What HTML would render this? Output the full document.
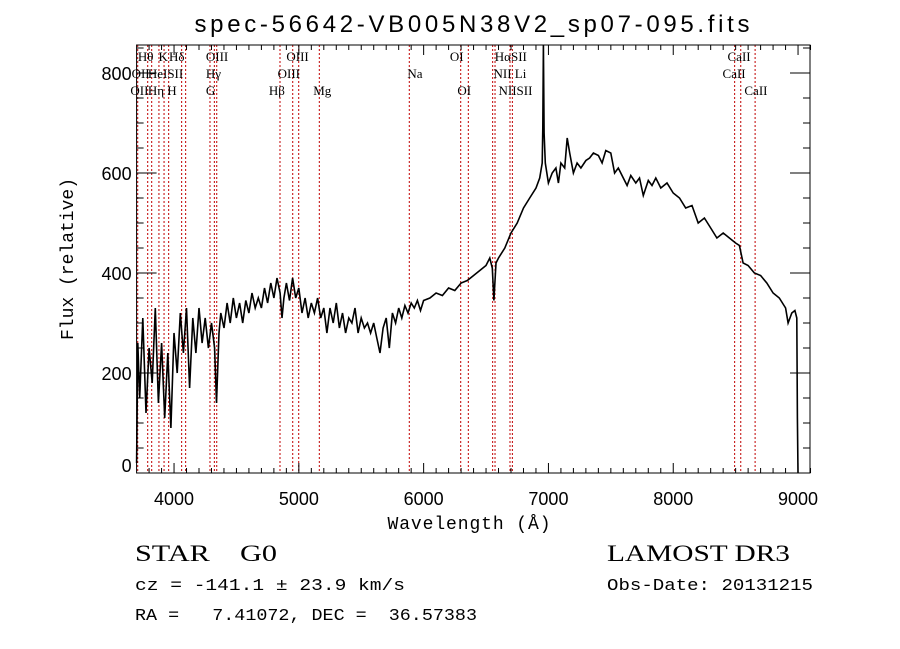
<!DOCTYPE html>
<html><head><meta charset="utf-8"><style>
body{margin:0;background:#fff;}
svg{display:block;}
text{fill:#000;}
</style></head><body>
<svg id="chart" width="900" height="649" font-family="Liberation Sans, sans-serif">
<rect width="900" height="649" fill="#fff"/>
<text x="472" y="32" font-size="24" text-anchor="middle" textLength="555">spec-56642-VB005N38V2_sp07-095.fits</text>
<g id="lines"></g>
<g id="labels" font-family="Liberation Serif, serif" font-size="13"></g>
<g id="series"></g>
<g id="axes"></g>
<text x="469" y="529" font-size="18" text-anchor="middle" textLength="163" font-family="Liberation Mono, monospace">Wavelength (Å)</text>
<text transform="translate(73,259) rotate(-90)" font-size="18" text-anchor="middle" font-family="Liberation Mono, monospace">Flux (relative)</text>
<text x="135" y="561" font-size="23" font-family="Liberation Serif, serif" xml:space="preserve" textLength="142" lengthAdjust="spacingAndGlyphs">STAR    G0</text>
<text x="607" y="561" font-size="23" font-family="Liberation Serif, serif" textLength="183" lengthAdjust="spacingAndGlyphs">LAMOST DR3</text>
<text x="135" y="590" font-size="17" textLength="270" lengthAdjust="spacingAndGlyphs" font-family="Liberation Mono, monospace">cz = -141.1 ± 23.9 km/s</text>
<text x="607" y="590" font-size="17" textLength="206" lengthAdjust="spacingAndGlyphs" font-family="Liberation Mono, monospace">Obs-Date: 20131215</text>
<text x="135" y="620" font-size="17" textLength="342" lengthAdjust="spacingAndGlyphs" font-family="Liberation Mono, monospace" xml:space="preserve">RA =   7.41072, DEC =  36.57383</text>
</svg>
<script>
const waves=[3700,3710,3725,3750,3775,3800,3825,3850,3875,3900,3925,3950,3975,4000,4025,4050,4075,4100,4125,4150,4175,4200,4225,4250,4275,4300,4325,4340,4360,4375,4400,4425,4450,4475,4500,4525,4550,4575,4600,4625,4650,4675,4700,4725,4750,4775,4800,4825,4850,4865,4880,4900,4925,4950,4975,5000,5025,5050,5075,5100,5125,5150,5175,5200,5225,5250,5275,5300,5325,5350,5375,5400,5425,5450,5475,5500,5525,5550,5575,5600,5625,5650,5675,5700,5725,5750,5775,5800,5825,5850,5875,5900,5925,5950,5975,6000,6050,6100,6150,6200,6250,6300,6350,6400,6450,6500,6530,6550,6563,6580,6600,6650,6700,6750,6800,6850,6900,6930,6950,6955,6960,6965,6975,7000,7030,7060,7080,7100,7130,7150,7170,7200,7230,7260,7300,7330,7360,7400,7430,7460,7500,7530,7560,7600,7630,7660,7700,7730,7760,7800,7830,7860,7900,7950,8000,8050,8100,8150,8200,8250,8300,8350,8400,8450,8500,8530,8560,8600,8650,8700,8750,8800,8850,8900,8920,8950,8975,8990,8995,9000];
const fluxes=[20,260,150,310,120,250,180,330,140,260,110,240,90,280,200,320,240,330,170,310,240,330,260,310,250,300,250,140,280,320,290,340,300,350,310,340,300,345,320,360,330,350,330,370,340,380,350,390,360,310,350,380,345,390,350,370,320,350,310,340,320,350,310,330,280,330,300,340,290,320,280,310,300,330,280,310,290,300,280,300,270,240,290,310,250,320,300,330,310,335,320,340,330,345,325,345,350,360,355,370,365,380,385,395,405,415,430,410,345,420,430,450,480,500,530,550,570,590,620,690,860,680,620,580,600,610,580,620,610,670,640,600,620,610,625,630,640,635,620,645,640,600,610,590,575,595,580,590,555,585,575,590,570,580,560,550,530,535,500,510,490,470,480,470,460,455,420,415,400,395,380,360,350,330,300,320,325,310,110,0];
const lineWaves=[3709,3789,3821,3879,3920,3957,4061,4093,4288,4323,4342,4849,4951,4999,5164,5885,6297,6358,6553,6572,6692,6711,8492,8541,8656];
const labelText=["Hθ","K","Hδ","OIII","OIII","OI","HαSII","CaII","OII","HeISII","Hγ","OIII","Na","NII Li","CaII","OII","Hη H","G","Hβ","Mg","OI","NIISII","CaII"];
const labelWave=[3710,3875,3960,4255,4900,6210,6570,8435,3660,3790,4255,4830,5870,6560,8395,3650,3790,4255,4760,5115,6270,6600,8570];
const labelRow=[0,0,0,0,0,0,0,0,1,1,1,1,1,1,1,2,2,2,2,2,2,2,2];
const xTicks=[4000,5000,6000,7000,8000,9000];
const yTicks=[0,200,400,600,800];
const X0=136.6,X1=810,Y0=45,Y1=473,WMIN=3700,WMAX=3700+(810-136.6)/0.1248,FMIN=0,FMAX=856;
const xs=w=>X0+(w-WMIN)/(WMAX-WMIN)*(X1-X0);
const ys=f=>Y1-(f-FMIN)/(FMAX-FMIN)*(Y1-Y0);
const NS="http://www.w3.org/2000/svg";
function mk(t,a,p){const e=document.createElementNS(NS,t);for(const k in a)e.setAttribute(k,a[k]);p.appendChild(e);return e;}
const gl=document.getElementById('lines');
lineWaves.forEach(w=>{const l=mk('line',{x1:xs(w),x2:xs(w),y1:Y0,y2:Y1,stroke:'#c00000','stroke-width':1,'stroke-dasharray':'2,2'},gl);

});
const gb=document.getElementById('labels');
labelText.forEach((t,i)=>{const e=mk('text',{x:xs(labelWave[i]),y:61+labelRow[i]*17},gb);e.textContent=t;

});
const gs=document.getElementById('series');
const pts=waves.map((w,i)=>xs(w).toFixed(1)+','+Math.max(Y0,ys(fluxes[i])).toFixed(1)).join(' ');
const pl=mk('polyline',{points:pts,fill:'none',stroke:'#000','stroke-width':1.6},gs);


const ga=document.getElementById('axes');
const fr=mk('rect',{x:X0,y:Y0,width:X1-X0,height:Y1-Y0,fill:'none',stroke:'#000','stroke-width':1},ga);


for(let w=3800;w<=9100;w+=100){const maj=w%1000===0,len=maj?10:5;
mk('line',{x1:xs(w),x2:xs(w),y1:Y1,y2:Y1-len,stroke:'#000'},ga);
mk('line',{x1:xs(w),x2:xs(w),y1:Y0,y2:Y0+len,stroke:'#000'},ga);}
xTicks.forEach(w=>{const t=mk('text',{x:xs(w),y:Y1+32,'font-size':18,'text-anchor':'middle'},ga);t.textContent=w;

});
for(let f=0;f<=850;f+=50){const maj=f%200===0,len=maj?20:7;
mk('line',{x1:X0,x2:X0+len,y1:ys(f),y2:ys(f),stroke:'#000'},ga);
mk('line',{x1:X1,x2:X1-len,y1:ys(f),y2:ys(f),stroke:'#000'},ga);}
yTicks.forEach(f=>{const t=mk('text',{x:X0-5,y:(f===0?ys(f)-1:ys(f)+7),'font-size':18,'text-anchor':'end'},ga);t.textContent=f;

});
</script>
</body></html>
